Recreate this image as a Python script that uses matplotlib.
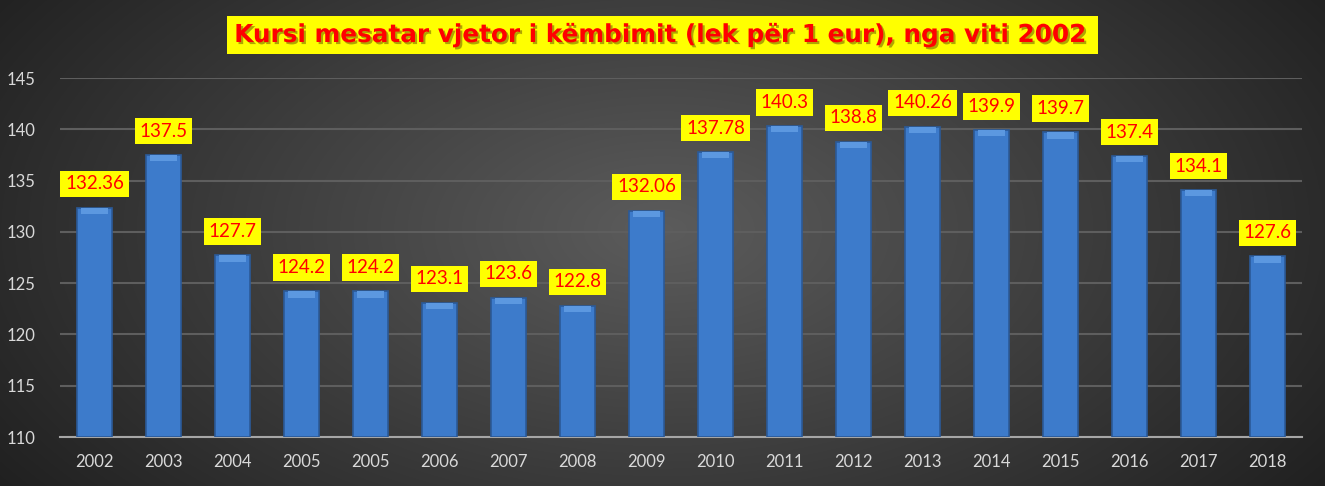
import numpy as np
import matplotlib
matplotlib.use("Agg")
import matplotlib.pyplot as plt
import matplotlib.patheffects as pe

years = ["2002", "2003", "2004", "2005", "2005", "2006", "2007", "2008", "2009",
         "2010", "2011", "2012", "2013", "2014", "2015", "2016", "2017", "2018"]
rates = [132.36, 137.5, 127.7, 124.2, 124.2, 123.1, 123.6, 122.8, 132.06,
         137.78, 140.3, 138.8, 140.26, 139.9, 139.7, 137.4, 134.1, 127.6]
labels = ["132.36", "137.5", "127.7", "124.2", "124.2", "123.1", "123.6", "122.8", "132.06",
          "137.78", "140.3", "138.8", "140.26", "139.9", "139.7", "137.4", "134.1", "127.6"]
title = "Kursi mesatar vjetor i këmbimit (lek për 1 eur), nga viti 2002"

plt.rcParams["font.family"] = ["Lato", "DejaVu Sans"]

fig = plt.figure(figsize=(13.25, 4.86), dpi=100)

# radial background
bg = fig.add_axes([0, 0, 1, 1])
yy, xx = np.mgrid[0:486, 0:1325]
r = np.sqrt(((xx - 662) / 760.0) ** 2 + ((yy - 230) / 420.0) ** 2)
shade = np.clip(0.36 - 0.22 * r, 0.12, 0.36)
bg.imshow(np.dstack([shade, shade, shade]), aspect="auto", extent=[0, 1, 0, 1])
bg.axis("off")

ax = fig.add_axes([60 / 1325, 1 - 437 / 486, 1242 / 1325, 359 / 486])
ax.patch.set_alpha(0)
x = np.arange(len(years))
ax.bar(x, np.array(rates) - 110, bottom=110, width=0.5, color="#3d7bcb",
       edgecolor="#2b5a98", linewidth=1.2, zorder=3)
# bevel highlight at the top of each bar
ax.bar(x, 0.6, bottom=np.array(rates) - 0.6, width=0.40, color="#5c98e0",
       linewidth=0, zorder=4)

for xi, v, lab in zip(x, rates, labels):
    ax.annotate(lab, (xi, v), xytext=(0, 11), textcoords="offset points",
                ha="center", va="bottom", color="#ff0000", fontsize=13.5,
                bbox=dict(boxstyle="square,pad=0.25", fc="#ffff00", ec="none"),
                zorder=5)

ax.set_xlim(-0.5, len(years) - 0.5)
ax.set_ylim(110, 145)
ax.set_yticks(np.arange(110, 146, 5))
ax.set_xticks(x)
ax.set_xticklabels(years)
ax.yaxis.grid(True, color="#5e5e5e", linewidth=1.5, zorder=0)
ax.set_axisbelow(True)
for s in ["top", "right", "left"]:
    ax.spines[s].set_visible(False)
ax.spines["bottom"].set_color("#a6a6a6")
ax.spines["bottom"].set_linewidth(1.5)
ax.tick_params(axis="both", length=0, colors="#d9d9d9", labelsize=12)
ax.tick_params(axis="x", pad=12)
ax.tick_params(axis="y", pad=18)

fig.text(0.5, 1 - 35 / 486, title, ha="center", va="center", color="#ff0000",
         fontsize=17.8, fontweight="bold", family="DejaVu Sans",
         bbox=dict(boxstyle="square,pad=0.3", fc="#ffff00", ec="none"),
         path_effects=[pe.withSimplePatchShadow(offset=(1.5, -1.5), shadow_rgbFace="#7a6a00", alpha=0.6)])

fig.savefig("out.png", dpi=100)
